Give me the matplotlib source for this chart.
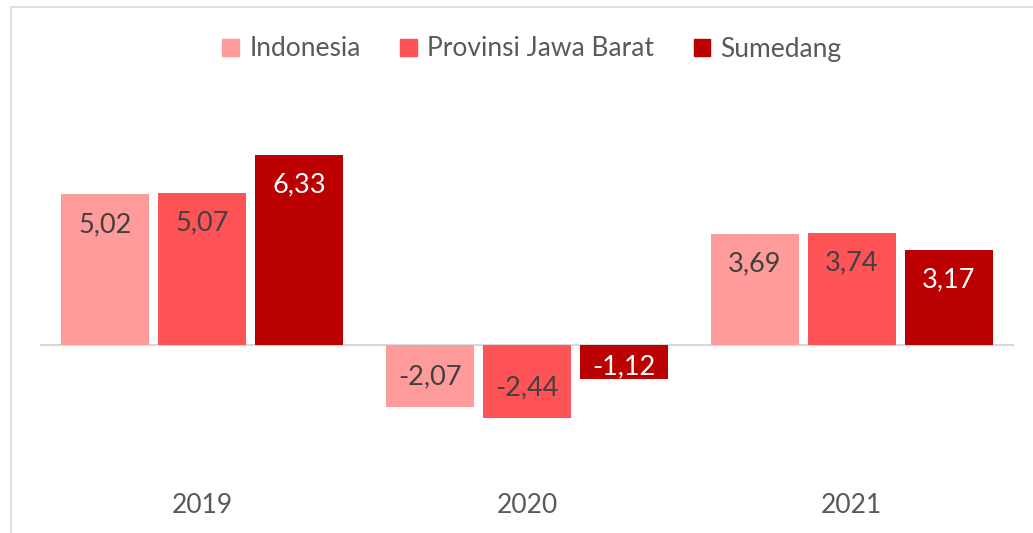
import matplotlib.pyplot as plt
from matplotlib.patches import Patch, Rectangle
import numpy as np

# data
years = ['2019', '2020', '2021']
series = ['Indonesia', 'Provinsi Jawa Barat', 'Sumedang']
indonesia = [5.02, -2.07, 3.69]
jabar = [5.07, -2.44, 3.74]
sumedang = [6.33, -1.12, 3.17]

colors = ['#FF9B9B', '#FF5457', '#BA0000']
label_colors = ['#404040', '#404040', '#FFFFFF']

plt.rcParams['font.family'] = ['Lato', 'DejaVu Sans']

W, H = 1033, 533
fig = plt.figure(figsize=(W / 100, H / 100), dpi=100)

# light chart border (extends off the right and bottom edges)
fig.patches.append(Rectangle((11 / W, -0.1), 2, 1 - 7 / H + 0.1, transform=fig.transFigure,
                             facecolor='none', edgecolor='#D9D9D9', lw=1.2))

ax = fig.add_axes([40 / W, 1 - 460 / H, 974 / W, 360 / H])
px_per_unit = 30.0
ax.set_ylim(-(460 - 345) / px_per_unit, (345 - 100) / px_per_unit)
ax.set_xlim(-0.5, 2.5)

x = np.arange(len(years))
width = 0.271
step = 0.299
all_vals = [indonesia, jabar, sumedang]
for i, (vals, name) in enumerate(zip(all_vals, series)):
    pos = x + (i - 1) * step
    bars = ax.bar(pos, vals, width, color=colors[i], label=name, zorder=2)
    for b, v in zip(bars, vals):
        bar_px = abs(v) * px_per_unit
        off = 30 if bar_px > 60 else bar_px * 0.35
        sign = 1 if v >= 0 else -1
        ax.annotate(f'{v:.2f}'.replace('.', ','), (b.get_x() + b.get_width() / 2, v),
                    xytext=(0, -sign * off * 0.72), textcoords='offset points',
                    ha='center', va='center', fontsize=19.5, color=label_colors[i])

ax.axhline(0, color='#D9D9D9', lw=1.5, zorder=1)

ax.set_xticks(x)
ax.set_xticklabels(years, fontsize=19, color='#595959')
ax.tick_params(axis='x', length=0, pad=24)
ax.set_yticks([])
for s in ax.spines.values():
    s.set_visible(False)

handles = [Patch(color=c, label=n) for c, n in zip(colors, series)]
fig.legend(handles=handles, loc='center', bbox_to_anchor=(532 / W, 1 - 49 / H), ncol=3,
           frameon=False, fontsize=19, labelcolor='#595959', handlelength=0.62,
           handleheight=0.62, handletextpad=0.4, columnspacing=1.5)

plt.savefig('out.png', dpi=100)
